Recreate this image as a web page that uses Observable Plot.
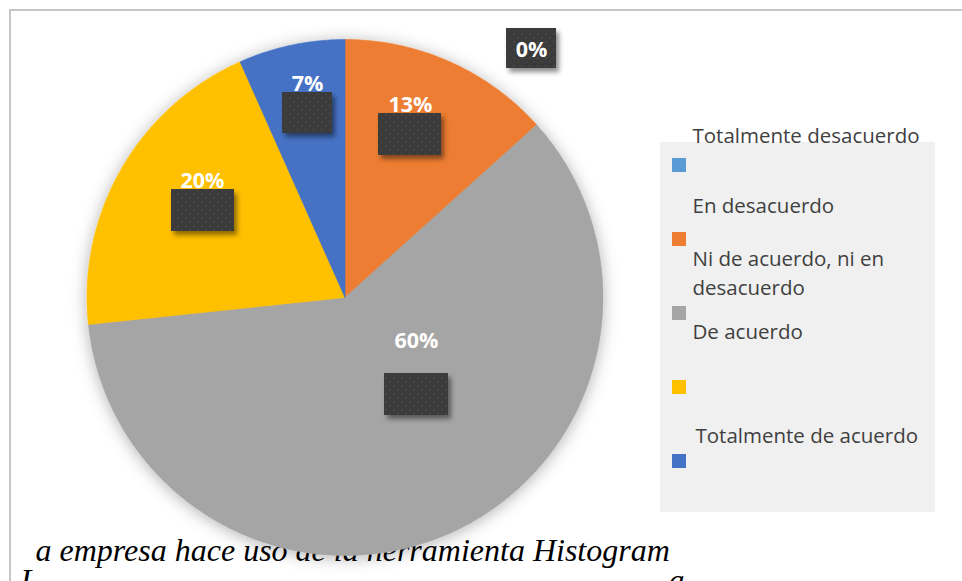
<!DOCTYPE html>
<html><head><meta charset="utf-8">
<script src="https://cdn.jsdelivr.net/npm/d3@7"></script>
<script src="https://cdn.jsdelivr.net/npm/@observablehq/plot@0.6"></script>
<style>
html,body{margin:0;padding:0;background:#fff;}
#wrap{position:relative;width:962px;height:581px;overflow:hidden;}
#frame{position:absolute;left:9px;top:9px;width:980px;height:600px;border-top:2px solid #c6c6c6;border-left:2px solid #c6c6c6;pointer-events:none;z-index:2;}
</style></head><body><div id="wrap"></div>
<script>
// ---- data ----
const categories = ["Totalmente desacuerdo", "En desacuerdo", "Ni de acuerdo, ni en desacuerdo", "De acuerdo", "Totalmente de acuerdo"];
const counts = [0, 2, 9, 3, 1];
const legendLabels = ["Totalmente desacuerdo", "En desacuerdo", "Ni de acuerdo, ni en\ndesacuerdo", "De acuerdo", "Totalmente de acuerdo"];
const captionLine1 = "a empresa hace uso de la herramienta Histogram";
const captionLine2 = ["L", "a"];

// ---- styles ----
const colors = ["#5B9BD5", "#ED7D31", "#A5A5A5", "#FFC000", "#4472C4"];

// ---- layout (pixels) ----
const W = 962, H = 581, CX = 344.5, CY = 297, R = 258;
const labelPos = [[531, 50], [410, 105], [416, 341], [202, 181], [307, 84]];
const boxPos = [[506, 28, 556, 68], [378, 113, 441, 155], [384, 373, 448, 415], [171, 189, 234, 231], [282, 92, 332, 133]];
const legendTextPos = [[692, 142], [692, 212], [692, 294], [692, 338], [695, 442]];
const swatchTop = [158, 232, 306, 380, 454];
const swatchX = 672, swatchSize = 14;
const panel = [660, 142, 935, 512];
const captionPos = [[35, 560], [20, 590], [668, 590]];

const ux = px => (px - CX) / R;
const uy = py => (CY - py) / R;

const total = d3.sum(counts);
const rows = categories.map((c, i) => ({cat: c, value: counts[i]}));
const arcs = d3.pie().sort(null).value(d => d.value)(rows);
const piePts = arcs.filter(a => a.endAngle > a.startAngle).flatMap(a => {
  const n = Math.max(2, Math.ceil((a.endAngle - a.startAngle) / (Math.PI / 360)));
  const pts = [{cat: a.data.cat, x: 0, y: 0}];
  for (let k = 0; k <= n; k++) {
    const t = a.startAngle + (a.endAngle - a.startAngle) * k / n;
    pts.push({cat: a.data.cat, x: Math.sin(t), y: Math.cos(t)});
  }
  pts.push({cat: a.data.cat, x: 0, y: 0});
  return pts;
});

const labels = categories.map((c, i) => ({
  text: Math.round(counts[i] / total * 100) + "%",
  x: ux(labelPos[i][0]), y: uy(labelPos[i][1])
}));
const boxes = categories.map((c, i) => ({
  x1: ux(boxPos[i][0]), y1: uy(boxPos[i][1]), x2: ux(boxPos[i][2]), y2: uy(boxPos[i][3])
}));
const legendTexts = legendLabels.map((t, i) => ({text: t, x: ux(legendTextPos[i][0]), y: uy(legendTextPos[i][1])}));
const swatches = categories.map((c, i) => ({
  cat: c, x1: ux(swatchX), x2: ux(swatchX + swatchSize), y1: uy(swatchTop[i]), y2: uy(swatchTop[i] + swatchSize)
}));
const captions = [captionLine1, ...captionLine2].map((t, i) => ({text: t, x: ux(captionPos[i][0]), y: uy(captionPos[i][1])}));

const svg = Plot.plot({
  width: W, height: H,
  marginLeft: CX - R, marginRight: W - (CX + R), marginTop: CY - R, marginBottom: H - (CY + R),
  x: {domain: [-1, 1], axis: null},
  y: {domain: [-1, 1], axis: null},
  color: {domain: categories, range: colors},
  marks: [
    Plot.text(captions, {x: "x", y: "y", text: "text", textAnchor: "start", lineAnchor: "bottom",
      fontFamily: "Liberation Serif", fontStyle: "italic", fontSize: 32, fill: "black"}),
    Plot.line(piePts, {x: "x", y: "y", z: "cat", fill: "cat", stroke: "cat", strokeWidth: 0.6}),
    Plot.rect(boxes, {x1: "x1", x2: "x2", y1: "y1", y2: "y2", fill: "url(#dotpat)"}),
    Plot.text(labels, {x: "x", y: "y", text: "text", fill: "white", fontWeight: "bold", fontSize: 21.5, fontFamily: "Open Sans"}),
    Plot.rect([{x1: ux(panel[0]), y1: uy(panel[1]), x2: ux(panel[2]), y2: uy(panel[3])}], {x1: "x1", x2: "x2", y1: "y1", y2: "y2", fill: "#f0f0f0"}),
    Plot.rect(swatches, {x1: "x1", x2: "x2", y1: "y1", y2: "y2", fill: "cat"}),
    Plot.text(legendTexts, {x: "x", y: "y", text: "text", textAnchor: "start", lineAnchor: "bottom", lineHeight: 1.37,
      fontFamily: "Open Sans", fontSize: 20.5, fill: "#404040"})
  ]
});

const ns = "http://www.w3.org/2000/svg";
const defs = document.createElementNS(ns, "defs");
defs.innerHTML = '<pattern id="dotpat" width="8" height="8" patternUnits="userSpaceOnUse">' +
  '<rect width="8" height="8" fill="#3a3a3a"/><circle cx="2" cy="2" r="1.1" fill="#4a4a4a"/>' +
  '<circle cx="6" cy="6" r="1.1" fill="#444"/></pattern>' +
  '<filter id="pieShadow" x="-20%" y="-20%" width="140%" height="140%"><feDropShadow dx="0" dy="2" stdDeviation="8" flood-color="#000" flood-opacity="0.3"/></filter>' +
  '<filter id="boxShadow" x="-30%" y="-30%" width="160%" height="160%"><feDropShadow dx="3" dy="4" stdDeviation="2.5" flood-color="#000" flood-opacity="0.45"/></filter>';
svg.prepend(defs);
const pieG = svg.querySelector('g[aria-label="line"]');
if (pieG) pieG.setAttribute("filter", "url(#pieShadow)");
const boxG = svg.querySelector('g[aria-label="rect"]');
if (boxG) boxG.setAttribute("filter", "url(#boxShadow)");

const wrap = document.getElementById("wrap");
wrap.appendChild(svg);
const frame = document.createElement("div");
frame.id = "frame";
wrap.appendChild(frame);
</script>
</body></html>
